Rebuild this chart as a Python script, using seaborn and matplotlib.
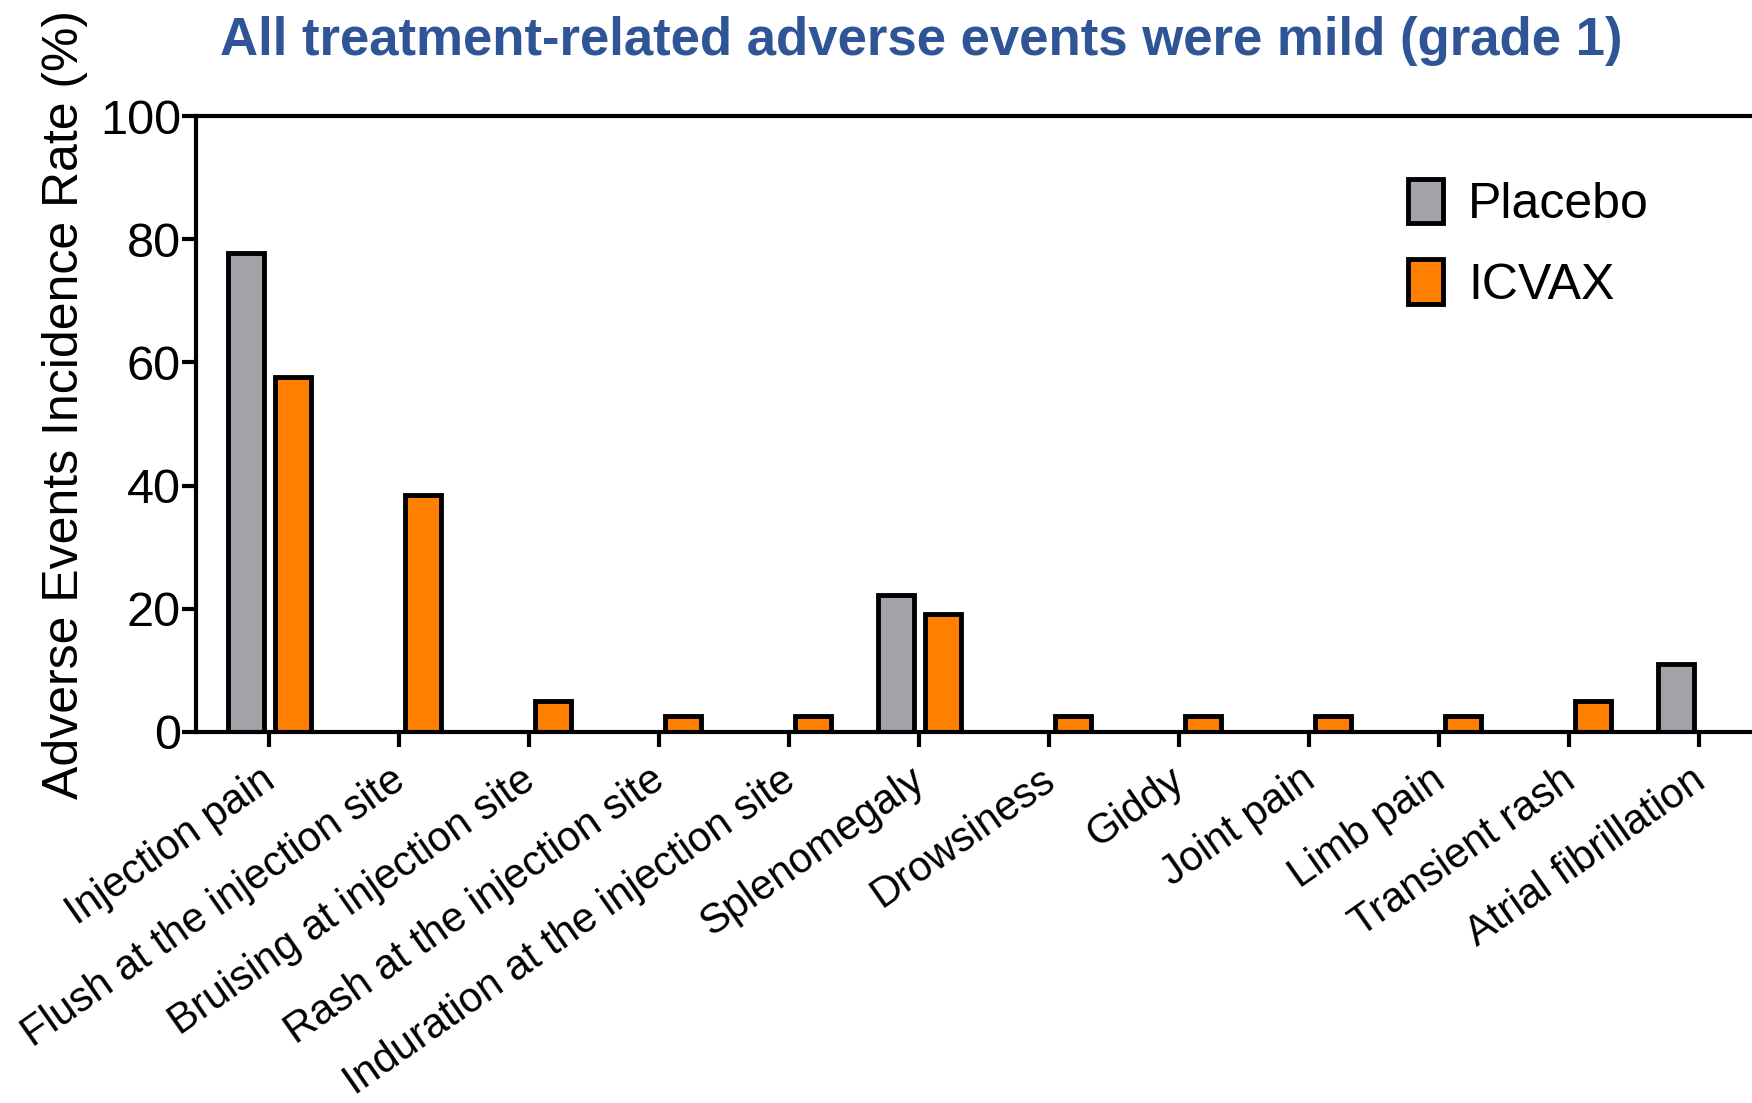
import pandas as pd
import numpy as np
import matplotlib
matplotlib.use('Agg')
import matplotlib.pyplot as plt
import matplotlib.transforms as mtransforms
from matplotlib import font_manager
import seaborn as sns

#%% Data

events = ['Injection pain', 'Flush at the injection site', 'Bruising at injection site',
          'Rash at the injection site', 'Induration at the injection site', 'Splenomegaly',
          'Drowsiness', 'Giddy', 'Joint pain', 'Limb pain', 'Transient rash',
          'Atrial fibrillation']
placebo = [77.8, 0, 0, 0, 0, 22.2, 0, 0, 0, 0, 0, 11.1]
icvax = [57.7, 38.5, 5.1, 2.6, 2.6, 19.2, 2.6, 2.6, 2.6, 2.6, 5.1, 0]
groups = ['Placebo', 'ICVAX']
yticks = [0, 20, 40, 60, 80, 100]

df = pd.DataFrame({'Event': events, 'Placebo': placebo, 'ICVAX': icvax})
df = pd.melt(df, id_vars=['Event'], value_vars=groups, var_name='Group', value_name='Rate')

#%% Plot

sns.set_style('ticks')
plt.rcParams['font.family'] = ['Liberation Sans', 'DejaVu Sans']
plt.rcParams['text.color'] = 'black'
plt.rcParams['axes.labelcolor'] = 'black'
plt.rcParams['xtick.color'] = 'black'
plt.rcParams['ytick.color'] = 'black'

# tall narrow digits on the y axis if the narrow face is around
installed = {f.name for f in font_manager.fontManager.ttflist}
if 'Liberation Sans Narrow' in installed:
    ytick_font = dict(family='Liberation Sans Narrow', fontsize=39)
else:
    ytick_font = dict(family='Liberation Sans', fontsize=35)

fig = plt.figure(figsize=(17.52, 11.03), dpi=100)
ax = fig.add_axes([0.1116, 0.3364, 0.8884, 0.5584])

colors = {'Placebo': '#A3A2A8', 'ICVAX': '#FF8000'}
sns.barplot(data=df, x='Event', y='Rate', hue='Group', hue_order=groups, order=events,
            palette=colors, saturation=1, width=0.72, gap=0.24, edgecolor='black',
            linewidth=3.5, errorbar=None, ax=ax)

ax.set_xlim(-0.568, 11.405)
ax.set_ylim(0, 100)
ax.set_yticks(yticks)
ax.set_yticklabels([str(v) for v in yticks], **ytick_font)
ax.set_xticks(range(len(events)))
ax.set_xticklabels(events, rotation=35, ha='right', rotation_mode='anchor', fontsize=30)
ax.tick_params(axis='y', length=10, width=3, pad=0.5, direction='out')
ax.tick_params(axis='x', length=11, width=3, pad=9, direction='out')

# nudge the rotated labels so their ends sit at the ticks
shift = mtransforms.ScaledTranslation(-0.10, 0, fig.dpi_scale_trans)
for lab in ax.get_xticklabels():
    lab.set_transform(lab.get_transform() + shift)

for side in ['left', 'bottom', 'top']:
    ax.spines[side].set_linewidth(3)
    ax.spines[side].set_color('black')
ax.spines['right'].set_visible(False)

ax.set_xlabel('')
ax.set_ylabel('Adverse Events Incidence Rate (%)', fontsize=36)
ax.yaxis.set_label_coords(-0.069, 0.531)

leg = ax.legend(loc='upper left', bbox_to_anchor=(0.8037, 0.838), bbox_transform=fig.transFigure,
                frameon=False, fontsize=36, borderpad=0, borderaxespad=0,
                handlelength=0.7, handleheight=1.0, handletextpad=0.5, labelspacing=0.62)
for h in leg.legend_handles:
    h.set_linewidth(3.5)

fig.text(0.526, 0.963, 'All treatment-related adverse events were mild (grade 1)',
         ha='center', va='center', fontsize=38, fontweight='bold', color='#2F5597')

fig.savefig('out.png', dpi=100)
